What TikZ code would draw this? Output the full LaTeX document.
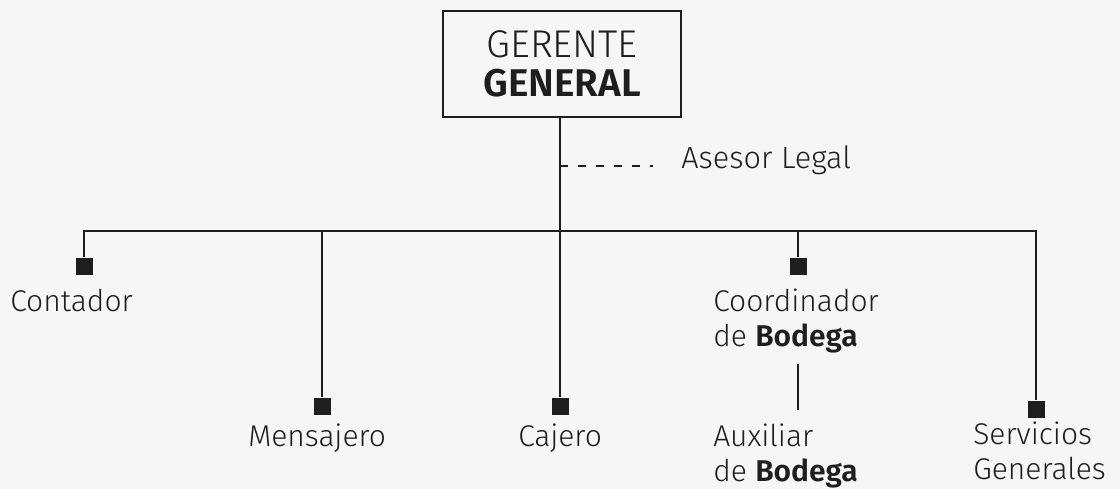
\documentclass[tikz,border=0pt]{standalone}
\usepackage{fontspec}
\setmainfont{Fira Sans}[UprightFont=* Light, BoldFont=* SemiBold]
\definecolor{Ink}{HTML}{1E1E1E}
\definecolor{Paper}{HTML}{F6F6F6}
\newcommand{\drawpost}[3]{% Parameters: name, x, y
  \node[post] (#1) at (#2,#3) {};
}

\begin{document}
\begin{tikzpicture}[x=0.75pt,y=-0.75pt,
    post/.style={fill=Ink,minimum size=12.75pt,inner sep=0pt},
    role/.style={anchor=base west,inner sep=0pt,align=left,text=Ink,
      font=\fontsize{22.5}{26.25}\selectfont},
    link/.style={draw=Ink,line width=1.9pt},
    headbox/.style={draw=Ink,line width=2.2pt,minimum width=178.5pt,minimum height=79.5pt,
      align=center,text=Ink,font=\fontsize{29}{29}\selectfont}]
  \fill[Paper] (0,0) rectangle (1120,489);
  \useasboundingbox (0,0) rectangle (1120,489);
  % head of the chart
  \node[headbox] (gg) at (562,64) {GERENTE\\\textbf{GENERAL}};
  \node[role,font=\fontsize{23}{27}\selectfont] (legal) at (681,168) {Asesor Legal};
  \coordinate (trunk) at (560,231);
  \coordinate (tap) at (560,166);
  % posts
  \drawpost{pcont}{84}{266}
  \drawpost{pmens}{322}{406}
  \drawpost{pcaje}{560}{406}
  \drawpost{pcoor}{798}{266}
  \drawpost{pserv}{1036}{409}
  % labels (two-line labels sit on their last baseline)
  \node[role] (cont) at (10,311) {Contador};
  \node[role] (mens) at (248,446) {Mensajero};
  \node[role] (caje) at (518,446) {Cajero};
  \node[role] (coor) at (713,346) {Coordinador\\de \textbf{Bodega}};
  \node[role] (aux) at (713,481) {Auxiliar\\de \textbf{Bodega}};
  \node[role] (serv) at (973,479) {Servicios\\Generales};
  % connectors
  \draw[link] (gg.south -| trunk) -- (trunk);
  \draw[link,dash pattern=on 6pt off 7.5pt,shorten >=21pt] (tap) -- (tap -| legal.west);
  \draw[link] (pcont) -- (pcont |- trunk) -- (pserv |- trunk) -- (pserv);
  \draw[link] (pmens) -- (pmens |- trunk);
  \draw[link] (pcaje) -- (trunk);
  \draw[link] (pcoor) -- (pcoor |- trunk);
  \draw[link,shorten <=8pt,shorten >=10pt] (coor.south -| pcoor) -- (aux.north -| pcoor);
\end{tikzpicture}
\end{document}
